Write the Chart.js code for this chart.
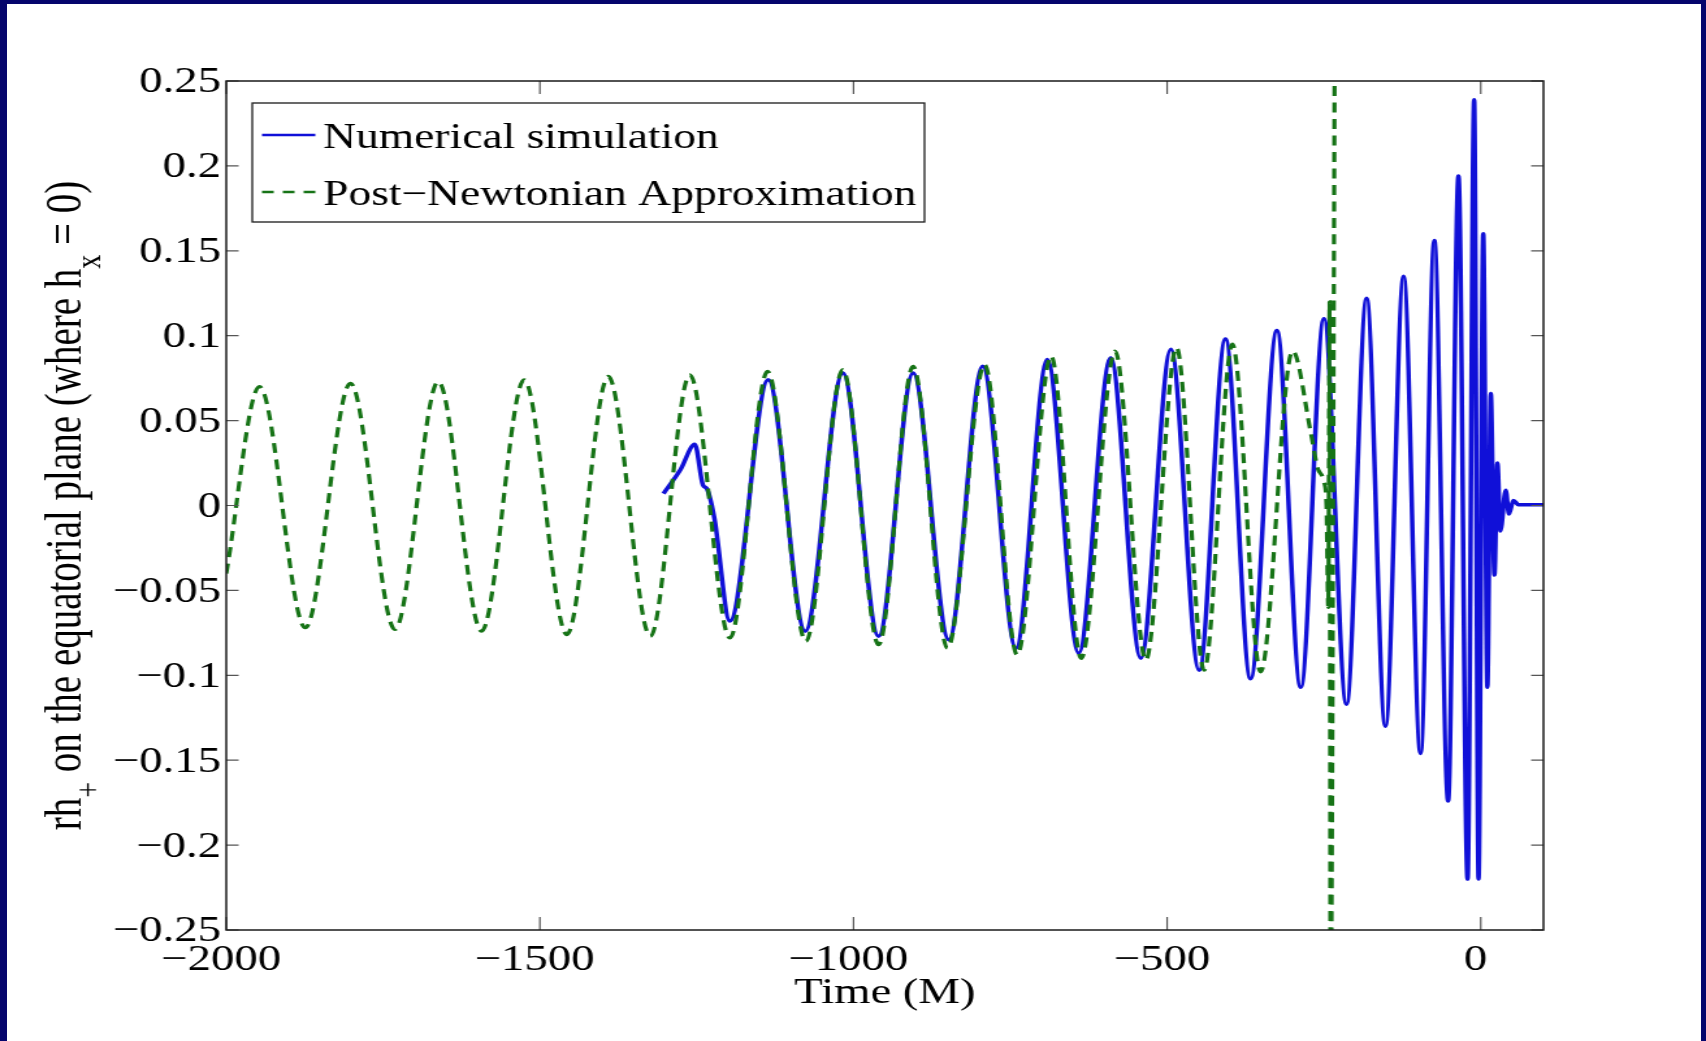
<!DOCTYPE html>
<html><head><meta charset="utf-8">
<script src="https://cdn.jsdelivr.net/npm/chart.js@4.4.1/dist/chart.umd.min.js"></script>
<style>
html,body{margin:0;padding:0;width:1706px;height:1041px;overflow:hidden;background:#05056c;}
#paper{position:absolute;left:7px;top:4px;width:1694px;height:1037px;background:#fff;}
#wrap{position:absolute;left:0;top:0;width:1312px;height:1041px;transform:scaleX(1.30030);transform-origin:0 0;}
canvas{display:block;}
</style></head><body>
<div id="paper"></div>
<div id="wrap"><canvas id="c" width="1312" height="1041"></canvas></div>
<script>
// ---- data ----
const nrLabel = 'Numerical simulation';
const pnLabel = 'Post\u2212Newtonian Approximation';

const nrTime = [-1303, -1276, -1253, -1240, -1234, -1222, -1197, -1136, -1077, -1017, -960, -905, -848, -794, -741, -691, -641, -590, -542, -494, -449, -407, -367, -325, -287, -250, -214, -182, -152, -123, -96, -74, -52, -35.5, -21, -10.5, -3.5, 4, 10.6, 16, 21.8, 26.6, 31.3, 39.8, 45, 52, 60, 100];
const nrStrain = [0.007, 0.021, 0.036, 0.012, 0.010, -0.007, -0.068, 0.074, -0.074, 0.078, -0.077, 0.078, -0.079, 0.082, -0.084, 0.086, -0.087, 0.087, -0.090, 0.092, -0.097, 0.098, -0.102, 0.103, -0.107, 0.110, -0.117, 0.122, -0.130, 0.135, -0.146, 0.156, -0.174, 0.194, -0.220, 0.239, -0.220, 0.160, -0.107, 0.066, -0.041, 0.025, -0.015, 0.009, -0.005, 0.003, 0.0005, 0.0005];

const pnTime = [-2000, -1947, -1874, -1802, -1731, -1662, -1593, -1525, -1457, -1391, -1324, -1261, -1197, -1137, -1076, -1017, -960, -905, -850, -791, -739, -685, -637, -583, -534, -485, -441, -396, -351, -300, -271, -260, -250, -246, -243, -241, -239.5, -232.5];
const pnStrain = [-0.040, 0.070, -0.072, 0.072, -0.073, 0.073, -0.074, 0.074, -0.076, 0.076, -0.077, 0.077, -0.078, 0.079, -0.080, 0.080, -0.082, 0.082, -0.084, 0.083, -0.088, 0.088, -0.090, 0.091, -0.091, 0.093, -0.097, 0.095, -0.098, 0.091, 0.043, 0.022, 0.014, 0.0, -0.06, 0.12, -0.3, 0.3];

const xTicks = [-2000, -1500, -1000, -500, 0];
const yTicks = [-0.25, -0.2, -0.15, -0.1, -0.05, 0, 0.05, 0.1, 0.15, 0.2, 0.25];
const xTitle = 'Time (M)';
const yTitleParts = [['rh', false], ['+', true], [' on the equatorial plane (where h', false], ['x', true], [' = 0)', false]];

// ---- styling ----
const SERIF = '"Liberation Serif", "Times New Roman", serif';
const BLUE = '#1010d8';
const GREEN = '#167316';

function fmt(v) { return v < 0 ? '\u2212' + String(Math.abs(v)) : String(v); }
function toXY(xs, ys) { return xs.map((x, i) => ({ x: x, y: ys[i] })); }

const framePlugin = {
  id: 'frame',
  afterDatasetsDraw(chart) {
    const ctx = chart.ctx, a = chart.chartArea;
    const xs = chart.scales.x, ys = chart.scales.y;
    ctx.save();
    // inward ticks on all four sides
    ctx.strokeStyle = '#555';
    ctx.lineWidth = 1.2;
    ctx.beginPath();
    xs.ticks.forEach(t => {
      const p = xs.getPixelForValue(t.value);
      ctx.moveTo(p, a.bottom); ctx.lineTo(p, a.bottom - 13);
      ctx.moveTo(p, a.top); ctx.lineTo(p, a.top + 13);
    });
    ys.ticks.forEach(t => {
      const p = ys.getPixelForValue(t.value);
      ctx.moveTo(a.left, p); ctx.lineTo(a.left + 9.5, p);
      ctx.moveTo(a.right, p); ctx.lineTo(a.right - 9.5, p);
    });
    ctx.stroke();
    // box
    ctx.strokeStyle = '#1a1a1a';
    ctx.lineWidth = 1.5;
    ctx.strokeRect(a.left, a.top, a.right - a.left, a.bottom - a.top);

    // legend box
    const lx0 = a.left + 20, ly0 = 103, lx1 = a.left + 537, ly1 = 222;
    ctx.fillStyle = '#fff';
    ctx.fillRect(lx0, ly0, lx1 - lx0, ly1 - ly0);
    ctx.strokeStyle = '#1a1a1a';
    ctx.lineWidth = 1.3;
    ctx.strokeRect(lx0, ly0, lx1 - lx0, ly1 - ly0);
    const rows = [135, 192];
    const order = [0, 1];
    ctx.font = '35px ' + SERIF;
    ctx.textBaseline = 'alphabetic';
    ctx.textAlign = 'left';
    order.forEach((di, k) => {
      const ds = chart.data.datasets[di];
      const y = rows[k];
      ctx.save();
      ctx.strokeStyle = ds.borderColor;
      ctx.lineWidth = 2.4;
      ctx.setLineDash(ds.legendDash || []);
      ctx.beginPath();
      ctx.moveTo(lx0 + 7.5, y); ctx.lineTo(lx0 + 48.5, y);
      ctx.stroke();
      ctx.restore();
      ctx.fillStyle = '#000';
      ctx.fillText(ds.label, lx0 + 54.5, y + 12.5);
    });
    ctx.restore();
  },
  afterDraw(chart) {
    const ctx = chart.ctx, a = chart.chartArea;
    ctx.save();
    const size = 39, subSize = 28;
    let total = 0;
    yTitleParts.forEach(([t, sub]) => {
      ctx.font = (sub ? subSize : size) + 'px ' + SERIF;
      total += ctx.measureText(t).width;
    });
    ctx.translate(62, (a.top + a.bottom) / 2);
    ctx.rotate(-Math.PI / 2);
    ctx.fillStyle = '#000';
    ctx.textBaseline = 'alphabetic';
    ctx.textAlign = 'left';
    let x = -total / 2;
    yTitleParts.forEach(([t, sub]) => {
      ctx.font = (sub ? subSize : size) + 'px ' + SERIF;
      ctx.fillText(t, x, sub ? 15 : 0);
      x += ctx.measureText(t).width;
    });
    ctx.restore();
  }
};

const chart = new Chart(document.getElementById('c'), {
  type: 'line',
  data: {
    datasets: [
      { label: nrLabel, data: toXY(nrTime, nrStrain), borderColor: BLUE, borderWidth: 3.5,
        cubicInterpolationMode: 'monotone', pointRadius: 0, fill: false, order: 1 },
      { label: pnLabel, data: toXY(pnTime, pnStrain), borderColor: GREEN, borderWidth: 3.2,
        borderDash: [10, 6.5], legendDash: [9, 7],
        cubicInterpolationMode: 'monotone', pointRadius: 0, fill: false, order: 0 }
    ]
  },
  options: {
    responsive: false,
    maintainAspectRatio: false,
    animation: false,
    events: [],
    layout: { padding: { left: 0, right: 125, top: 81, bottom: 0 } },
    plugins: { legend: { display: false }, tooltip: { enabled: false }, title: { display: false } },
    scales: {
      x: {
        type: 'linear', min: -2000, max: 100,
        grid: { display: false, drawTicks: false },
        border: { display: false },
        afterBuildTicks: s => { s.ticks = xTicks.map(v => ({ value: v })); },
        afterFit: s => { s.height = 111; },
        ticks: { font: { family: SERIF, size: 36 }, color: '#000', padding: 9, labelOffset: -4, autoSkip: false, maxRotation: 0, callback: v => fmt(v) },
        title: { display: true, text: xTitle, color: '#000', font: { family: SERIF, size: 36 }, padding: { top: 0, bottom: 26 } }
      },
      y: {
        type: 'linear', min: -0.25, max: 0.25,
        grid: { display: false, drawTicks: false },
        border: { display: false },
        afterBuildTicks: s => { s.ticks = yTicks.map(v => ({ value: v })); },
        afterFit: s => { s.width = 174; },
        ticks: { font: { family: SERIF, size: 36 }, color: '#000', padding: 4, labelOffset: 2, autoSkip: false, callback: v => fmt(v) }
      }
    }
  },
  plugins: [framePlugin]
});
</script></body></html>
